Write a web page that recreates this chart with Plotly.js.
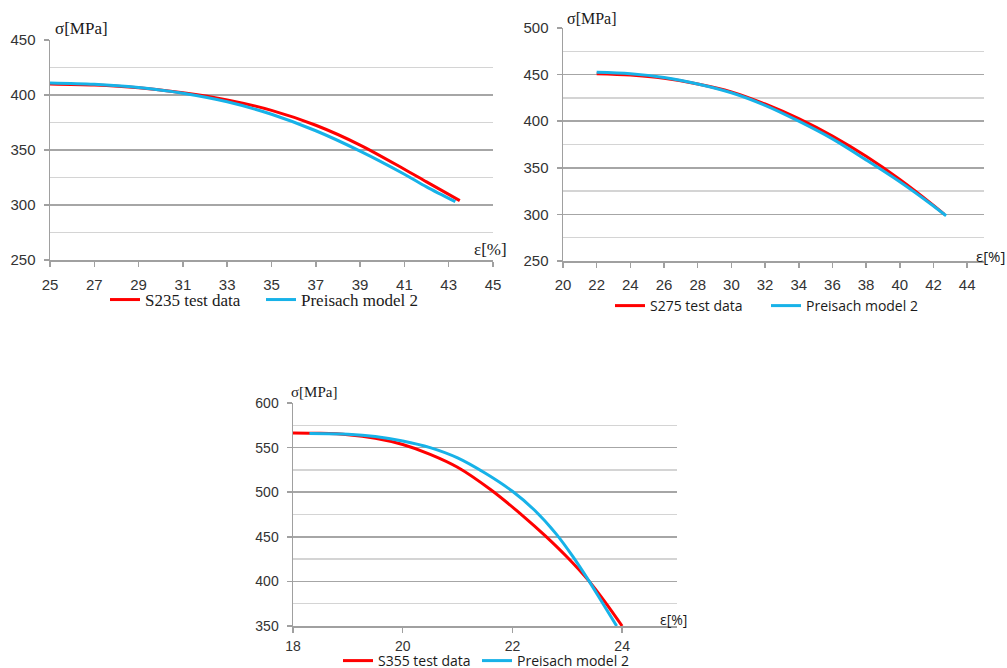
<!DOCTYPE html>
<html>
<head>
<meta charset="utf-8">
<script src="https://cdn.plot.ly/plotly-3.0.1.min.js"></script>
<style>html,body{margin:0;padding:0;background:#fff;overflow:hidden;width:1007px;height:668px;}#chart{width:1007px;height:680px;}</style>
</head>
<body>
<div id="chart"></div>
<script>
// ---- Data ----
// Chart 1: S235
const s235TestX = [25, 27, 29, 31, 33, 35, 37, 39, 41, 42, 43.5];
const s235TestY = [410, 409, 406.5, 402, 395.5, 386, 372.5, 354.5, 332.5, 321, 304];
const s235ModelX = [25, 27, 29, 31, 33, 35, 37, 39, 41, 42, 43.3];
const s235ModelY = [411, 409.8, 406.8, 401.6, 393.8, 382.5, 367.5, 349, 328, 316.5, 303];
// Chart 2: S275
const s275TestX = [22, 24, 26, 28, 30, 32, 34, 36, 38, 40, 42, 42.65];
const s275TestY = [451, 449.5, 446, 440, 431.5, 418.5, 402.7, 384, 362.3, 337.5, 309.7, 300];
const s275ModelX = [22, 24, 26, 28, 30, 32, 34, 36, 38, 40, 42, 42.75];
const s275ModelY = [452.5, 451, 447, 440, 430.5, 417, 400, 381, 358.5, 335, 309, 298.5];
// Chart 3: S355
const s355TestX = [18, 18.5, 19, 19.5, 20, 20.5, 21, 21.6, 22.2, 22.6, 23, 23.4, 23.7, 24.0];
const s355TestY = [566.4, 566, 564.5, 560.5, 553.5, 542.5, 528, 503, 473, 451, 427, 400, 376, 350];
const s355ModelX = [18.3, 19, 19.5, 20, 20.5, 21, 21.5, 22, 22.4, 22.8, 23.1, 23.4, 23.64, 23.9];
const s355ModelY = [565.8, 565, 562.5, 557.5, 550, 538.5, 521.5, 501, 480, 453, 428, 400, 376, 350];

const seriesNames = {
  s235Test: 'S235 test data', s275Test: 'S275 test data', s355Test: 'S355 test data',
  model: 'Preisach model 2'
};
const xTicks1 = [25, 27, 29, 31, 33, 35, 37, 39, 41, 43, 45];
const xTicks2 = [20, 22, 24, 26, 28, 30, 32, 34, 36, 38, 40, 42, 44];
const xTicks3 = [18, 20, 22, 24];
const yTicks1 = [250, 300, 350, 400, 450];
const yTicks2 = [250, 300, 350, 400, 450, 500];
const yTicks3 = [350, 400, 450, 500, 550, 600];

// ---- Styles ----
const RED = '#ff0000', BLUE = '#17b2e8';
const W = 1007, H = 680;
const px = v => v / W, py = v => 1 - v / H;

function line(x, y, name, color, xa, ya, lg) {
  return {x, y, name, type: 'scatter', mode: 'lines', xaxis: xa, yaxis: ya, legend: lg,
    line: {color, width: 3, shape: 'spline', smoothing: 0.9}, hoverinfo: 'skip'};
}

const traces = [
  line(s235TestX, s235TestY, seriesNames.s235Test, RED, 'x', 'y', 'legend'),
  line(s235ModelX, s235ModelY, seriesNames.model, BLUE, 'x', 'y', 'legend2'),
  line(s275TestX, s275TestY, seriesNames.s275Test, RED, 'x2', 'y2', 'legend3'),
  line(s275ModelX, s275ModelY, seriesNames.model, BLUE, 'x2', 'y2', 'legend4'),
  line(s355TestX, s355TestY, seriesNames.s355Test, RED, 'x3', 'y3', 'legend5'),
  line(s355ModelX, s355ModelY, seriesNames.model, BLUE, 'x3', 'y3', 'legend6')
];

const tickFont = (s) => ({family: 'Liberation Sans, Arial, sans-serif', size: s, color: '#333333'});
function xAxis(domain, range, ticks, anchor, fs, so) {
  return {domain, range, anchor, tickmode: 'array', tickvals: ticks, ticktext: ticks.map(String),
    showgrid: false, zeroline: false, showline: true, linecolor: '#a0a0a0', linewidth: 1.5,
    ticks: 'outside', ticklen: 5, tickcolor: '#a0a0a0', tickwidth: 1.5, tickfont: tickFont(fs),
    ticklabelstandoff: so, fixedrange: true};
}
function yAxis(domain, range, ticks, anchor, fs) {
  return {domain, range, anchor, tickmode: 'array', tickvals: ticks, ticktext: ticks.map(String),
    showgrid: true, gridcolor: '#a6a6a6', gridwidth: 1.5, zeroline: false,
    showline: true, linecolor: '#a0a0a0', linewidth: 1.5,
    ticks: 'outside', ticklen: 5, tickcolor: '#a0a0a0', tickwidth: 1.5, tickfont: tickFont(fs),
    ticklabelstandoff: 5,
    minor: {dtick: 25, tick0: 0, showgrid: true, gridcolor: '#d4d4d4', gridwidth: 1.5, ticks: ''},
    fixedrange: true};
}

function legendAt(xpx, ypx, family, size) {
  return {x: px(xpx), y: py(ypx), xanchor: 'left', yanchor: 'middle', orientation: 'h',
    bgcolor: 'rgba(0,0,0,0)', borderwidth: 0, itemwidth: 30,
    font: {family, size, color: '#1a1a1a'}};
}
const SERIF = 'Liberation Serif, Times New Roman, serif';
const SANS = 'Open Sans, Liberation Sans, sans-serif';

function ann(text, xpx, ypx, family, size) {
  return {text, x: px(xpx), y: py(ypx), xref: 'paper', yref: 'paper', showarrow: false,
    xanchor: 'left', yanchor: 'middle', font: {family, size, color: '#1a1a1a'}};
}

const layout = {
  width: W, height: H, margin: {l: 0, r: 0, t: 0, b: 0},
  paper_bgcolor: '#ffffff', plot_bgcolor: '#ffffff', showlegend: true,
  xaxis: xAxis([px(50), px(493)], [25, 45], xTicks1, 'y', 15, 5),
  yaxis: yAxis([py(260), py(40)], [250, 450], yTicks1, 'x', 15),
  xaxis2: xAxis([px(563), px(984)], [20, 45], xTicks2, 'y2', 15, 4),
  yaxis2: yAxis([py(261), py(28)], [250, 500], yTicks2, 'x2', 15),
  xaxis3: xAxis([px(293), px(677)], [18, 25], xTicks3, 'y3', 14, 2),
  yaxis3: yAxis([py(626), py(403)], [350, 600], yTicks3, 'x3', 14),
  legend: legendAt(105, 300, SERIF, 17),
  legend2: legendAt(261, 300, SERIF, 17),
  legend3: legendAt(610, 306, SANS, 14),
  legend4: legendAt(766, 306, SANS, 14),
  legend5: legendAt(338, 661, SANS, 14),
  legend6: legendAt(477, 661, SANS, 14),
  annotations: [
    ann('σ[MPa]', 53, 29, SERIF, 17),
    ann('ε[%]', 472, 249, SERIF, 17),
    ann('σ[MPa]', 565, 18, SERIF, 16),
    ann('ε[%]', 974, 256, SANS, 15),
    ann('σ[MPa]', 289, 392, SERIF, 15),
    ann('ε[%]', 658, 619, SANS, 14)
  ]
};

Plotly.newPlot('chart', traces, layout, {staticPlot: true, displayModeBar: false});
</script>
</body>
</html>
